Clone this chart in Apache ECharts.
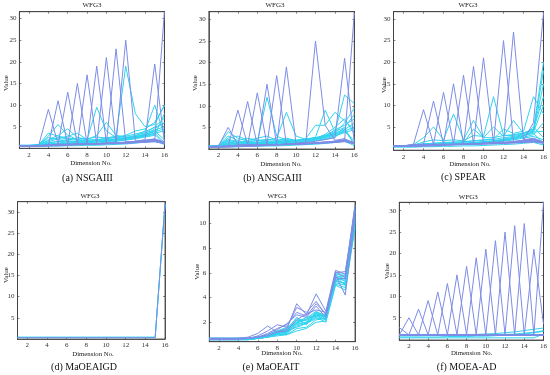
<!DOCTYPE html>
<html>
<head>
<meta charset="utf-8">
<script src="https://cdn.jsdelivr.net/npm/echarts@6/dist/echarts.min.js"></script>
<style>html,body{margin:0;padding:0;background:#fff;}#c{width:550px;height:375px;}</style>
</head>
<body>
<div id="c"></div>
<script>
// ---------- data ----------
const dims = [1,2,3,4,5,6,7,8,9,10,11,12,13,14,15,16];
const xTickVals = [2,4,6,8,10,12,14,16];
const yTicks30 = [5,10,15,20,25,30];
const yTicksE = [2,4,6,8,10];
const captions = ['(a) NSGAIII','(b) ANSGAIII','(c) SPEAR','(d) MaOEAIGD','(e) MaOEAIT','(f) MOEA-AD'];
const panelTitle = 'WFG3';
const xName = 'Dimension No.';
const yName = 'Value';

// (a) NSGAIII
const nsga3Spikes = [
 [0.6,0.6,0.7,9.0,1.0,0.9,0.9,1.0,1.0,1.1,1.2,1.3,1.4,1.5,1.6,1.2],
 [0.5,0.5,0.6,0.8,11.0,0.9,0.9,1.0,1.0,1.1,1.1,1.2,1.3,1.4,1.5,1.1],
 [0.6,0.6,0.6,0.8,0.9,13.0,1.0,1.0,1.1,1.1,1.2,1.3,1.4,1.5,1.7,1.3],
 [0.5,0.5,0.6,0.7,0.8,0.9,15.0,1.0,1.0,1.1,1.2,1.2,1.3,1.5,1.6,1.2],
 [0.5,0.5,0.5,0.7,0.8,0.9,1.0,17.0,1.1,1.1,1.2,1.3,1.4,1.5,1.8,1.4],
 [0.6,0.6,0.6,0.7,0.8,0.9,1.0,1.1,19.0,1.2,1.3,1.4,1.5,1.6,1.9,1.5],
 [0.5,0.5,0.6,0.7,0.8,0.9,1.0,1.0,1.1,21.0,1.3,1.4,1.5,1.7,2.0,1.3],
 [0.5,0.5,0.5,0.6,0.7,0.8,0.9,1.0,1.1,1.2,23.0,1.5,1.6,1.8,2.1,1.2],
 [0.5,0.5,0.5,0.6,0.7,0.8,0.9,1.0,1.1,1.2,1.3,25.0,1.7,1.9,2.2,1.4],
 [0.6,0.6,0.6,0.6,0.7,0.8,0.9,1.0,1.0,1.1,1.2,1.4,1.6,2.0,19.5,1.5],
 [0.5,0.5,0.5,0.6,0.6,0.7,0.8,0.9,1.0,1.0,1.1,1.2,1.4,1.6,1.8,31.5]
];
const nsga3Dense = [
 [0.6,0.6,0.8,2.8,5.5,3.0,2.0,1.6,1.8,2.0,2.2,2.5,3.0,3.6,4.2,5.0],
 [0.5,0.6,0.7,2.0,3.0,4.5,2.5,2.0,9.5,4.0,2.5,2.3,2.6,3.2,3.8,4.5],
 [0.7,0.7,0.9,1.5,2.2,2.8,3.5,2.0,3.0,6.0,3.0,2.6,2.4,3.0,4.5,6.0],
 [0.5,0.5,0.6,1.2,1.6,2.0,2.4,2.2,2.6,2.4,2.8,19.0,8.0,5.0,5.5,10.0],
 [0.6,0.6,0.7,1.0,1.2,1.5,1.6,1.8,2.0,2.2,2.6,3.0,4.0,4.5,6.0,9.8],
 [0.5,0.5,0.6,0.8,1.0,1.2,1.3,1.5,1.6,1.8,2.0,2.3,2.8,4.0,10.0,3.0],
 [0.6,0.6,0.7,2.5,2.0,1.8,1.5,1.4,1.5,1.6,1.8,2.0,2.5,3.0,3.5,4.0],
 [0.5,0.5,0.6,1.8,2.5,2.2,1.8,1.6,1.7,1.9,2.1,2.4,2.7,3.2,4.0,2.0],
 [0.6,0.6,0.7,1.0,1.1,1.2,1.3,1.4,1.5,1.7,1.9,2.1,2.4,2.8,3.2,1.0],
 [0.5,0.5,0.5,0.7,0.8,0.9,1.0,1.1,1.2,1.4,1.6,1.9,2.2,2.6,3.0,8.0],
 [0.6,0.6,0.6,0.9,1.0,1.1,1.2,1.3,1.5,1.6,1.8,2.0,2.6,3.4,5.0,7.0],
 [0.5,0.5,0.6,1.3,1.6,1.5,1.4,1.5,1.6,1.8,2.0,2.2,2.5,2.9,3.5,1.3],
 [0.4,0.4,0.4,0.5,0.5,0.6,0.6,0.7,0.7,0.8,0.9,1.0,1.2,1.4,1.7,0.9],
 [0.7,0.7,0.8,3.5,2.8,2.4,2.0,1.9,2.0,2.3,2.5,2.8,3.3,3.9,4.8,5.8]
];

// (b) ANSGAIII
const ansga3Spikes = [
 [0.6,0.7,5.0,1.0,1.0,1.0,1.0,1.0,1.0,1.1,1.2,1.3,1.4,1.5,1.7,1.2],
 [0.6,0.6,0.8,9.0,1.0,1.0,1.0,1.0,1.1,1.1,1.2,1.3,1.4,1.6,1.8,1.3],
 [0.5,0.6,0.7,0.9,11.0,1.0,1.0,1.0,1.1,1.2,1.2,1.3,1.5,1.6,1.8,1.2],
 [0.5,0.5,0.7,0.8,0.9,13.0,1.0,1.0,1.1,1.1,1.2,1.4,1.5,1.7,1.9,1.4],
 [0.5,0.5,0.6,0.8,0.9,1.0,15.0,1.0,1.1,1.2,1.3,1.4,1.5,1.7,2.0,1.3],
 [0.5,0.5,0.6,0.7,0.8,0.9,1.0,17.0,1.1,1.2,1.3,1.4,1.6,1.8,2.1,1.4],
 [0.5,0.5,0.6,0.7,0.8,0.9,1.0,1.1,19.0,1.2,1.3,1.5,1.6,1.8,2.2,1.5],
 [0.5,0.5,0.5,0.6,0.7,0.8,0.9,1.0,1.1,1.3,1.6,25.0,5.5,2.0,2.4,1.3],
 [0.5,0.5,0.5,0.6,0.7,0.8,0.9,1.0,1.1,1.3,1.5,1.8,2.2,2.6,21.0,1.6],
 [0.5,0.5,0.5,0.6,0.6,0.7,0.8,0.9,1.0,1.1,1.2,1.4,1.6,1.8,2.0,31.5]
];
const ansga3Dense = [
 [0.6,0.8,4.0,2.5,1.8,1.5,12.0,3.0,2.0,1.8,2.0,2.4,2.8,3.4,4.2,5.0],
 [0.5,0.7,3.0,2.0,2.5,2.0,2.0,2.5,8.5,3.0,2.2,2.5,3.0,3.6,4.5,6.0],
 [0.7,0.8,2.5,3.0,2.0,2.5,3.0,2.0,2.5,2.0,2.3,2.7,9.0,4.0,12.5,10.5],
 [0.6,0.7,2.0,1.5,1.8,2.0,2.2,2.0,2.2,2.0,2.4,5.5,5.5,8.5,6.5,4.5],
 [0.5,0.6,1.5,1.6,1.5,1.6,1.8,1.8,2.0,1.9,2.2,2.6,3.2,4.0,5.0,8.0],
 [0.6,0.7,1.8,1.2,1.3,1.4,1.5,1.6,1.7,1.9,2.1,2.5,3.0,3.8,6.0,9.5],
 [0.5,0.6,1.2,1.0,1.1,1.2,1.3,1.4,1.5,1.7,1.9,2.2,2.6,3.2,4.0,2.0],
 [0.6,0.7,1.0,1.3,1.5,1.4,1.4,1.5,1.6,1.8,2.0,2.3,2.8,3.5,4.8,1.2],
 [0.5,0.6,0.9,0.9,1.0,1.1,1.2,1.3,1.4,1.5,1.7,2.0,2.4,3.0,3.8,4.5],
 [0.6,0.6,0.8,0.9,1.0,1.0,1.1,1.2,1.3,1.4,1.6,1.9,2.2,2.7,4.5,1.0],
 [0.5,0.6,1.4,1.1,1.2,1.3,1.4,1.5,1.6,1.8,2.0,2.4,3.4,5.0,7.0,3.5],
 [0.6,0.7,2.2,1.8,1.6,1.5,1.6,1.7,1.8,2.0,2.2,2.6,3.0,4.4,5.5,7.0],
 [0.4,0.4,0.5,0.5,0.6,0.6,0.7,0.7,0.8,0.9,1.0,1.1,1.3,1.5,1.8,0.8]
];

// (c) SPEAR
const spearSpikes = [
 [0.5,0.6,1.0,9.0,1.0,0.9,0.9,0.9,1.0,1.0,1.1,1.2,1.3,1.4,1.5,1.2],
 [0.5,0.5,0.9,1.0,11.0,1.0,0.9,1.0,1.0,1.1,1.1,1.2,1.3,1.4,1.6,1.3],
 [0.6,0.6,0.8,0.9,1.0,13.0,1.0,1.0,1.0,1.1,1.2,1.3,1.4,1.5,1.7,1.2],
 [0.5,0.5,0.7,0.8,0.9,1.0,15.0,1.0,1.1,1.1,1.2,1.3,1.4,1.6,1.8,1.4],
 [0.5,0.5,0.6,0.8,0.9,0.9,1.0,17.0,1.1,1.2,1.2,1.3,1.5,1.6,1.9,1.3],
 [0.5,0.5,0.6,0.7,0.8,0.9,1.0,1.0,19.0,1.2,1.3,1.4,1.5,1.7,2.0,1.5],
 [0.5,0.5,0.6,0.7,0.8,0.9,0.9,1.0,1.1,21.0,1.3,1.4,1.6,1.8,2.1,1.4],
 [0.5,0.5,0.5,0.6,0.7,0.8,0.9,1.0,1.1,1.2,1.3,25.0,1.6,1.9,2.2,1.3],
 [0.5,0.5,0.5,0.6,0.7,0.8,0.9,1.0,1.1,1.2,1.4,1.6,27.0,2.0,2.4,1.5],
 [0.5,0.5,0.5,0.6,0.6,0.7,0.8,0.9,1.0,1.1,1.2,1.4,1.6,1.9,6.0,31.5]
];
const spearDense = [
 [0.6,0.6,0.9,2.5,5.0,2.0,8.0,2.0,6.5,2.5,5.0,2.8,6.5,3.5,4.5,12.0],
 [0.5,0.6,0.8,1.5,2.0,1.8,2.0,1.8,3.0,2.8,12.0,3.0,3.2,3.6,4.5,20.0],
 [0.6,0.6,0.7,1.0,1.2,1.4,1.5,1.6,1.8,2.0,2.2,4.5,3.5,4.0,12.0,8.0],
 [0.5,0.5,0.7,0.9,1.0,1.1,1.2,1.3,4.5,2.5,2.5,3.0,3.0,3.5,4.0,15.0],
 [0.6,0.6,0.8,1.1,1.2,1.3,1.4,1.5,1.7,1.9,2.1,2.5,2.8,3.2,3.8,10.0],
 [0.5,0.5,0.6,0.8,0.9,1.0,1.1,1.2,1.4,1.6,1.8,2.2,2.6,3.0,3.5,1.2],
 [0.5,0.6,0.7,0.9,1.0,1.0,1.1,1.2,1.3,1.5,1.7,2.0,2.4,2.8,5.0,2.5],
 [0.6,0.6,0.7,0.8,0.9,1.0,1.1,1.2,1.3,1.4,1.6,1.8,2.2,2.6,3.2,6.0],
 [0.5,0.5,0.6,0.7,0.8,0.9,1.0,1.1,1.2,1.4,1.6,1.9,2.3,3.5,4.2,18.0],
 [0.6,0.6,0.7,0.8,0.9,1.0,1.1,1.2,1.3,1.5,1.7,2.0,2.4,2.9,3.8,4.0],
 [0.5,0.5,0.6,0.7,0.8,0.9,1.0,1.1,1.2,1.3,1.5,1.7,2.0,2.4,2.8,2.0],
 [0.3,0.3,0.3,0.4,0.4,0.5,0.5,0.6,0.6,0.7,0.8,0.9,1.0,1.2,1.4,0.8]
];

// (d) MaOEAIGD
const igdSpikes = [
 [0.3,0.3,0.3,0.3,0.3,0.3,0.3,0.3,0.3,0.3,0.3,0.3,0.3,0.3,0.3,32.0]
];
const igdDense = [
 [0.35,0.35,0.35,0.35,0.35,0.35,0.35,0.35,0.35,0.35,0.35,0.35,0.35,0.35,0.35,31.8],
 [0.45,0.45,0.45,0.45,0.45,0.45,0.45,0.45,0.45,0.45,0.45,0.45,0.45,0.45,0.45,31.6]
];

// (e) MaOEAIT
const itSpikes = [
 [0.7,0.7,0.7,0.7,0.8,1.1,1.7,1.2,1.5,3.5,2.6,4.3,2.9,6.2,5.9,11.5],
 [0.7,0.7,0.7,0.7,0.7,0.9,1.3,1.8,1.6,3.2,2.8,3.7,2.6,6.0,6.1,11.0],
 [0.6,0.6,0.6,0.7,0.7,0.8,1.0,1.4,1.9,2.6,2.4,3.3,2.4,5.8,4.2,10.5],
 [0.6,0.6,0.6,0.6,0.7,0.8,0.9,1.2,1.3,2.2,2.7,3.0,2.8,5.6,5.5,10.8],
 [0.7,0.7,0.7,0.7,0.7,0.8,1.1,1.5,1.8,2.8,2.5,3.5,2.7,6.1,5.6,11.4]
];
const itDense = [
 [0.7,0.7,0.6,0.6,0.7,0.7,0.9,1.1,1.2,2.0,2.2,2.6,2.2,5.3,5.2,10.2],
 [0.6,0.6,0.6,0.6,0.6,0.7,0.8,1.0,1.1,1.8,2.0,2.4,2.0,5.0,4.6,9.6],
 [0.7,0.7,0.7,0.7,0.7,0.8,0.9,1.3,1.4,2.4,1.8,2.8,2.6,5.9,5.7,11.2],
 [0.6,0.6,0.6,0.6,0.6,0.7,0.8,1.0,1.0,1.5,1.6,2.2,2.3,5.2,5.0,10.0],
 [0.6,0.6,0.6,0.6,0.6,0.7,0.8,0.9,1.0,1.3,1.5,2.0,2.1,5.1,4.8,9.8],
 [0.6,0.6,0.6,0.6,0.7,0.7,0.9,1.2,1.5,2.3,2.1,2.7,2.5,5.5,5.4,10.6],
 [0.7,0.7,0.7,0.7,0.7,0.8,1.0,1.3,1.6,1.9,2.3,2.9,2.4,5.7,5.3,10.9],
 [0.6,0.6,0.6,0.6,0.6,0.7,0.8,1.1,1.3,1.6,1.9,2.5,2.2,5.4,5.1,10.4],
 [0.7,0.7,0.7,0.7,0.7,0.7,0.9,1.2,1.4,2.1,2.2,2.8,2.5,5.8,5.5,11.0],
 [0.6,0.6,0.6,0.6,0.6,0.7,0.9,1.1,1.2,1.7,1.9,2.3,2.3,5.6,5.8,10.7],
 [0.7,0.7,0.7,0.7,0.7,0.7,0.8,1.2,1.3,2.0,2.4,2.5,2.6,5.9,5.9,10.3],
 [0.6,0.6,0.6,0.6,0.6,0.7,0.8,1.0,1.1,1.9,2.0,2.6,2.4,5.4,5.6,10.1],
 [0.7,0.7,0.7,0.7,0.7,0.8,0.9,1.1,1.4,2.2,1.9,2.7,2.3,5.7,5.0,11.1]
];

// (f) MOEA-AD
const adSpikes = [
 [2.7,1.0,1.0,1.0,1.0,1.0,1.0,1.0,1.0,1.0,1.0,1.0,1.0,1.0,1.0,1.0],
 [1.0,5.0,1.0,1.0,1.0,1.0,1.0,1.0,1.0,1.0,1.0,1.0,1.0,1.0,1.0,1.0],
 [1.0,1.0,7.0,1.0,1.0,1.0,1.0,1.0,1.0,1.0,1.0,1.0,1.0,1.0,1.0,1.0],
 [1.0,1.0,1.0,9.0,1.0,1.0,1.0,1.0,1.0,1.0,1.0,1.0,1.0,1.0,1.0,1.0],
 [1.0,1.0,1.0,1.0,11.0,1.0,1.0,1.0,1.0,1.0,1.0,1.0,1.0,1.0,1.0,1.0],
 [1.0,1.0,1.0,1.0,1.0,13.0,1.0,1.0,1.0,1.0,1.0,1.0,1.0,1.0,1.0,1.0],
 [1.0,1.0,1.0,1.0,1.0,1.0,15.0,1.0,1.0,1.0,1.0,1.0,1.0,1.0,1.0,1.0],
 [1.0,1.0,1.0,1.0,1.0,1.0,1.0,17.0,1.0,1.0,1.0,1.0,1.0,1.0,1.0,1.0],
 [1.0,1.0,1.0,1.0,1.0,1.0,1.0,1.0,19.0,1.0,1.0,1.0,1.0,1.0,1.0,1.0],
 [1.0,1.0,1.0,1.0,1.0,1.0,1.0,1.0,1.0,21.0,1.0,1.0,1.0,1.0,1.0,1.0],
 [1.0,1.0,1.0,1.0,1.0,1.0,1.0,1.0,1.0,1.0,23.0,1.0,1.0,1.0,1.0,1.0],
 [1.0,1.0,1.0,1.0,1.0,1.0,1.0,1.0,1.0,1.0,1.0,25.0,1.0,1.0,1.0,1.0],
 [1.0,1.0,1.0,1.0,1.0,1.0,1.0,1.0,1.0,1.0,1.0,1.0,26.5,1.0,1.0,1.0],
 [1.0,1.0,1.0,1.0,1.0,1.0,1.0,1.0,1.0,1.0,1.0,1.0,1.0,27.0,1.0,1.0],
 [1.0,1.0,1.0,1.0,1.0,1.0,1.0,1.0,1.0,1.0,1.0,1.0,1.0,1.0,21.0,3.5],
 [1.0,1.0,1.0,1.0,1.0,1.0,1.0,1.0,1.0,1.0,1.0,1.0,1.0,1.0,1.0,32.0]
];
const adDense = [
 [0.8,0.8,0.8,0.9,0.9,0.9,1.0,1.0,1.1,1.2,1.3,1.5,1.7,2.0,2.3,2.6],
 [0.5,0.5,0.5,0.5,0.5,0.6,0.6,0.6,0.7,0.7,0.8,0.9,1.0,1.2,1.5,1.8],
 [0.3,0.3,0.3,0.3,0.3,0.3,0.3,0.3,0.3,0.3,0.3,0.3,0.3,0.3,0.3,1.2],
 [1.1,1.1,1.1,1.1,1.1,1.1,1.1,1.1,1.1,1.1,1.1,1.1,1.2,1.4,1.6,2.0]
];

// ---------- layout ----------
const blueCol = '#7d8de6';
const cyanCol = '#2fd3ef';
const axisCol = '#3a3a3a';
const serif = 'Liberation Serif';

const layout = [
 {g:{left:19.4,top:11.7,width:145,height:136.6}, ymin:0, ymax:31.6, yt:yTicks30, blue:nsga3Spikes, cyan:nsga3Dense,
  title:[92,5], xl:[91,163.5], yl:[6.3,83], cap:[87.5,178]},
 {g:{left:208.8,top:11.7,width:145.5,height:137.3}, ymin:0, ymax:31.8, yt:yTicks30, blue:ansga3Spikes, cyan:ansga3Dense,
  title:[275,5], xl:[281,164], yl:[195,83], cap:[272.5,178]},
 {g:{left:393.5,top:11.7,width:150,height:138.5}, ymin:-0.4, ymax:31.7, yt:yTicks30, blue:spearSpikes, cyan:spearDense,
  title:[468,5], xl:[470,164], yl:[384,85], cap:[463.3,177]},
 {g:{left:17.5,top:201.7,width:147.5,height:137.3}, ymin:0, ymax:32.4, yt:yTicks30, blue:igdSpikes, cyan:igdDense,
  title:[90,196], xl:[93,354], yl:[6,275], cap:[84,367.7]},
 {g:{left:209.3,top:201.7,width:145.7,height:140}, ymin:0.43, ymax:11.75, yt:yTicksE, blue:itSpikes, cyan:itDense,
  title:[277,196], xl:[282,353.3], yl:[196.7,271.7], cap:[271,367.7]},
 {g:{left:399.3,top:202.3,width:145.7,height:137.7}, ymin:-0.2, ymax:31.96, yt:yTicks30, blue:adSpikes, cyan:adDense,
  title:[468.3,196.7], xl:[471.7,353.3], yl:[386.7,271], cap:[466.7,367.7]}
];

const grids=[], xAxes=[], yAxes=[], series=[], texts=[];
layout.forEach((p,i)=>{
  grids.push(Object.assign({show:true, borderColor:axisCol, borderWidth:0.8, backgroundColor:'#fff'}, p.g));
  const tickStyle = {show:true, inside:true, length:2, lineStyle:{color:axisCol, width:0.6}};
  xAxes.push({type:'value', gridIndex:i, min:1, max:16, position:'bottom',
    axisLine:{show:true, onZero:false, lineStyle:{color:axisCol, width:0.8}},
    axisTick:Object.assign({customValues:xTickVals}, tickStyle),
    axisLabel:{customValues:xTickVals, fontFamily:serif, fontSize:7, color:'#333', margin:3},
    splitLine:{show:false}});
  xAxes.push({type:'value', gridIndex:i, min:1, max:16, position:'top',
    axisLine:{show:true, onZero:false, lineStyle:{color:axisCol, width:0.8}},
    axisTick:Object.assign({customValues:xTickVals}, tickStyle),
    axisLabel:{show:false}, splitLine:{show:false}});
  yAxes.push({type:'value', gridIndex:i, min:p.ymin, max:p.ymax, position:'left',
    axisLine:{show:true, onZero:false, lineStyle:{color:axisCol, width:0.8}},
    axisTick:Object.assign({customValues:p.yt}, tickStyle),
    axisLabel:{customValues:p.yt, fontFamily:serif, fontSize:7, color:'#333', margin:3},
    splitLine:{show:false}});
  yAxes.push({type:'value', gridIndex:i, min:p.ymin, max:p.ymax, position:'right',
    axisLine:{show:true, onZero:false, lineStyle:{color:axisCol, width:0.8}},
    axisTick:Object.assign({customValues:p.yt}, tickStyle),
    axisLabel:{show:false}, splitLine:{show:false}});
  const mk = (arr,col)=>arr.forEach(line=>{
    series.push({type:'line', xAxisIndex:2*i, yAxisIndex:2*i, symbol:'none', silent:true,
      animation:false, clip:true, lineStyle:{width:1, color:col},
      data: dims.map((d,j)=>[d,line[j]])});
  });
  mk(p.cyan, cyanCol);
  mk(p.blue, blueCol);
  texts.push({type:'text', x:p.title[0], y:p.title[1], style:{text:panelTitle, font:'7px '+serif, fill:'#222', textAlign:'center', textVerticalAlign:'middle'}});
  texts.push({type:'text', x:p.xl[0], y:p.xl[1], style:{text:xName, font:'6.8px '+serif, fill:'#222', textAlign:'center', textVerticalAlign:'middle'}});
  texts.push({type:'text', x:p.yl[0], y:p.yl[1], rotation:Math.PI/2, style:{text:yName, font:'7px '+serif, fill:'#222', textAlign:'center', textVerticalAlign:'middle'}});
  texts.push({type:'text', x:p.cap[0], y:p.cap[1], style:{text:captions[i], font:'10px '+serif, fill:'#111', textAlign:'center', textVerticalAlign:'middle'}});
});

const chart = echarts.init(document.getElementById('c'), null, {renderer:'canvas'});
chart.setOption({
  animation:false,
  backgroundColor:'#fff',
  grid:grids, xAxis:xAxes, yAxis:yAxes, series:series,
  graphic:{elements:texts}
});
</script>
</body>
</html>
